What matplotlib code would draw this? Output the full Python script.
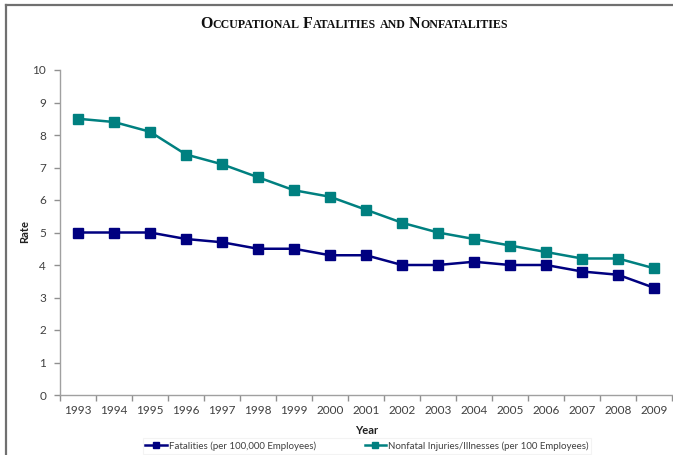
import matplotlib
matplotlib.use("Agg")
import matplotlib.pyplot as plt
from matplotlib.lines import Line2D

years = ["1993", "1994", "1995", "1996", "1997", "1998", "1999", "2000", "2001",
         "2002", "2003", "2004", "2005", "2006", "2007", "2008", "2009"]
fatalities = [5.0, 5.0, 5.0, 4.8, 4.7, 4.5, 4.5, 4.3, 4.3, 4.0, 4.0, 4.1, 4.0, 4.0, 3.8, 3.7, 3.3]
nonfatal = [8.5, 8.4, 8.1, 7.4, 7.1, 6.7, 6.3, 6.1, 5.7, 5.3, 5.0, 4.8, 4.6, 4.4, 4.2, 4.2, 3.9]
series_labels = ["Fatalities (per 100,000 Employees)",
                 "Nonfatal Injuries/Illnesses (per 100 Employees)"]
title_text = "Occupational Fatalities and Nonfatalities"
yticks = list(range(0, 11))

W, H = 673, 455
fig = plt.figure(figsize=(W / 100, H / 100), dpi=100)
ax = fig.add_axes([60 / W, 60 / H, 612 / W, 325 / H])

sans = ["Lato", "DejaVu Sans"]
txtc = "#404040"
x = list(range(len(years)))
ax.plot(x, fatalities, color="#000080", lw=1.8, marker="s", ms=7,
        markeredgecolor="#000080", label=series_labels[0], zorder=3)
ax.plot(x, nonfatal, color="#008080", lw=1.8, marker="s", ms=7,
        markeredgecolor="#008080", label=series_labels[1], zorder=3)

ax.set_xlim(-0.5, len(years) - 0.5)
ax.set_ylim(0, 10)
ax.set_yticks(yticks)
ax.set_yticklabels([str(v) for v in yticks], fontfamily=sans, fontsize=8.5, color=txtc)
ax.set_xticks(x)
ax.set_xticklabels(years, fontfamily=sans, fontsize=8.5, color=txtc)
ax.tick_params(axis="x", length=0, pad=7)
ax.set_xticks([i + 0.5 for i in range(-1, len(years))], minor=True)
ax.tick_params(axis="x", which="minor", length=4, color="#909090", width=1)
ax.tick_params(axis="y", length=4, color="#909090", width=1, pad=6)
for s in ["top", "right"]:
    ax.spines[s].set_visible(False)
for s in ["left", "bottom"]:
    ax.spines[s].set_color("#a0a0a0")
    ax.spines[s].set_linewidth(1)

fig.text(367 / W, 1 - 430 / H, "Year", ha="center", va="center",
         fontfamily=sans, fontweight="bold", fontsize=8, color="#202020")
fig.text(25 / W, 1 - 232 / H, "Rate", ha="center", va="center", rotation=90,
         fontfamily=sans, fontweight="bold", fontsize=8, color="#202020")

leg = fig.legend(loc="center", bbox_to_anchor=(367 / W, 1 - 446 / H), ncol=2,
                 frameon=True, prop={"family": sans, "size": 7},
                 columnspacing=5, handlelength=2.2, handletextpad=0.2,
                 borderpad=0.3, markerscale=0.7)
leg.get_frame().set_edgecolor("#f0f0f0")
leg.get_frame().set_linewidth(0.8)
leg.get_frame().set_boxstyle("square", pad=0)
for t in leg.get_texts():
    t.set_color(txtc)
for h in leg.legend_handles:
    h.set_linewidth(1.8)

# border lines
fig.add_artist(Line2D([6 / W, 1], [1 - 5 / H, 1 - 5 / H], transform=fig.transFigure,
                      color="#707070", lw=1.6))
fig.add_artist(Line2D([6 / W, 6 / W], [0, 1 - 5 / H], transform=fig.transFigure,
                      color="#707070", lw=1.6))

# small caps title
renderer = fig.canvas.get_renderer()
big, small = 11.5, 8.6
lowercase_words = {"and", "of", "the"}
pieces = []
for word_i, word in enumerate(title_text.split(" ")):
    if word_i > 0:
        pieces.append((" ", small))
    if word in lowercase_words:
        pieces.append((word.upper(), small))
        continue
    pieces.append((word[0].upper(), big))
    if len(word) > 1:
        pieces.append((word[1:].upper(), small))
arts = []
for txt, size in pieces:
    t = fig.text(0, 0, txt, fontsize=size, fontfamily="Liberation Serif",
                 fontweight="bold", va="baseline", ha="left", color="#101010")
    arts.append(t)
widths = []
for t in arts:
    bb = t.get_window_extent(renderer)
    widths.append(bb.width if t.get_text() != " " else 3.5)
total = sum(widths)
xpos = 354 - total / 2
ybase = 1 - 27.5 / H
for t, w in zip(arts, widths):
    t.set_position((xpos / W, ybase))
    xpos += w

fig.savefig("out.png", dpi=100)
